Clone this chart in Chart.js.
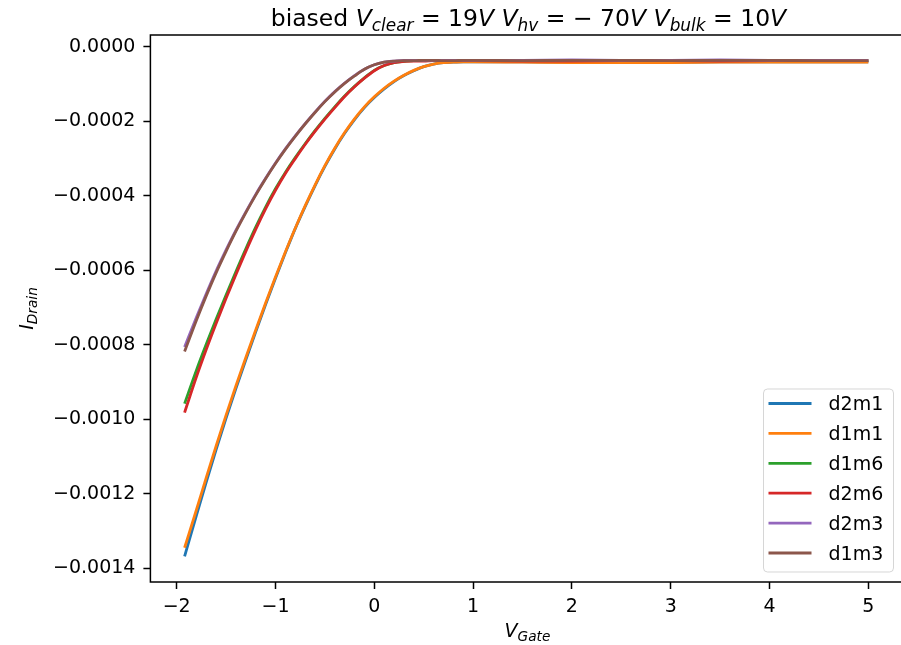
<!DOCTYPE html>
<html>
<head>
<meta charset="utf-8">
<script src="https://cdn.jsdelivr.net/npm/chart.js@4.4.1/dist/chart.umd.min.js"></script>
<style>
  html, body { margin: 0; padding: 0; background: #fff; overflow: hidden; }
  #wrap { width: 901px; height: 645px; overflow: hidden; }
</style>
</head>
<body>
<div id="wrap"><canvas id="myChart" width="910" height="645"></canvas></div>
<script>
// gate voltage sweep (V)
const vGate = [-1.92, -1.8, -1.7, -1.6, -1.5, -1.4, -1.3, -1.2, -1.1, -1.0,
    -0.9, -0.8, -0.7, -0.6, -0.5, -0.4, -0.3, -0.2, -0.1, 0.0,
    0.1, 0.2, 0.3, 0.4, 0.5, 0.6, 0.7, 0.8, 0.9, 1.0,
    1.5, 2.0, 2.5, 3.0, 3.5, 4.0, 4.5, 5.0]

// drain current (A)
const d2m1 = [-0.001368, -0.001258, -0.001168, -0.001081, -0.000997, -0.000917, -0.000840, -0.000765, -0.000692, -0.000621,
    -0.000553, -0.000488, -0.000429, -0.000373, -0.000321, -0.000274, -0.000232, -0.000195, -0.000163, -0.000136,
    -0.000113, -0.000093, -0.000077, -0.000064, -0.000053, -0.000046, -0.000042, -0.000041, -0.000040, -0.000040,
    -0.000040, -0.000041, -0.000041, -0.000041, -0.000040, -0.000040, -0.000040, -0.000040]
const d1m1 = [-0.001345, -0.001243, -0.001156, -0.001071, -0.000989, -0.000910, -0.000834, -0.000760, -0.000688, -0.000618,
    -0.000551, -0.000487, -0.000427, -0.000371, -0.000319, -0.000272, -0.000230, -0.000193, -0.000161, -0.000134,
    -0.000111, -0.000092, -0.000076, -0.000063, -0.000053, -0.000046, -0.000042, -0.000041, -0.000040, -0.000040,
    -0.000041, -0.000042, -0.000042, -0.000042, -0.000041, -0.000041, -0.000041, -0.000041]
const d1m6 = [-0.000958, -0.000868, -0.000798, -0.000731, -0.000666, -0.000603, -0.000542, -0.000484, -0.000430, -0.000381,
    -0.000337, -0.000297, -0.000260, -0.000225, -0.000192, -0.000161, -0.000132, -0.000106, -0.000083, -0.000063,
    -0.000050, -0.000042, -0.000039, -0.000037, -0.000037, -0.000037, -0.000037, -0.000037, -0.000037, -0.000037,
    -0.000037, -0.000037, -0.000036, -0.000037, -0.000037, -0.000036, -0.000037, -0.000037]
const d2m6 = [-0.000982, -0.000886, -0.000812, -0.000742, -0.000675, -0.000611, -0.000549, -0.000490, -0.000435, -0.000385,
    -0.000340, -0.000300, -0.000262, -0.000227, -0.000194, -0.000163, -0.000133, -0.000107, -0.000084, -0.000064,
    -0.000050, -0.000042, -0.000039, -0.000038, -0.000038, -0.000037, -0.000037, -0.000037, -0.000037, -0.000037,
    -0.000038, -0.000038, -0.000037, -0.000037, -0.000038, -0.000037, -0.000037, -0.000037]
const d2m3 = [-0.000806, -0.000726, -0.000662, -0.000601, -0.000545, -0.000492, -0.000443, -0.000396, -0.000353, -0.000312,
    -0.000274, -0.000239, -0.000206, -0.000175, -0.000146, -0.000120, -0.000097, -0.000077, -0.000060, -0.000048,
    -0.000041, -0.000038, -0.000036, -0.000036, -0.000036, -0.000036, -0.000036, -0.000036, -0.000036, -0.000036,
    -0.000036, -0.000035, -0.000036, -0.000036, -0.000035, -0.000036, -0.000036, -0.000036]
const d1m3 = [-0.000818, -0.000734, -0.000668, -0.000606, -0.000549, -0.000495, -0.000445, -0.000398, -0.000354, -0.000313,
    -0.000275, -0.000240, -0.000207, -0.000176, -0.000147, -0.000121, -0.000098, -0.000078, -0.000060, -0.000048,
    -0.000041, -0.000038, -0.000037, -0.000037, -0.000036, -0.000036, -0.000037, -0.000037, -0.000036, -0.000036,
    -0.000037, -0.000036, -0.000036, -0.000037, -0.000036, -0.000036, -0.000037, -0.000037]

const xTicks = [-2, -1, 0, 1, 2, 3, 4, 5]
const yTicks = [0, -0.0002, -0.0004, -0.0006, -0.0008, -0.0010, -0.0012, -0.0014]

const seriesNames = ['d2m1', 'd1m1', 'd1m6', 'd2m6', 'd2m3', 'd1m3']
const seriesColors = ['#1f77b4', '#ff7f0e', '#2ca02c', '#d62728', '#9467bd', '#8c564b']
const series = [d2m1, d1m1, d1m6, d2m6, d2m3, d1m3]

// mathtext-ish labels: [text, 'rm' | 'it' | 'sub']
const titleRuns = [['biased ', 'rm'], ['V', 'it'], ['clear', 'sub'], [' = 19', 'rm'], ['V', 'it'], [' ', 'rm'],
    ['V', 'it'], ['hv', 'sub'], [' = \u2212 ', 'rm'], ['70', 'rm'], ['V', 'it'], [' ', 'rm'],
    ['V', 'it'], ['bulk', 'sub'], [' = 10', 'rm'], ['V', 'it']]
const xLabelRuns = [['V', 'it'], ['Gate', 'sub']]
const yLabelRuns = [['I', 'it'], ['Drain', 'sub']]

const FONT = "'DejaVu Sans', sans-serif"

function minus(s) {
    return String(s).replace('-', '\u2212')
}

function drawMath(ctx, runs, cx, baseY, size) {
    const fontOf = k => k === 'rm' ? size + 'px ' + FONT
        : k === 'it' ? 'italic ' + size + 'px ' + FONT
        : 'italic ' + (size * 0.72) + 'px ' + FONT
    let w = 0
    for (const [t, k] of runs) { ctx.font = fontOf(k); w += ctx.measureText(t).width }
    let x = cx - w / 2
    ctx.fillStyle = '#000'
    ctx.textAlign = 'left'
    ctx.textBaseline = 'alphabetic'
    for (const [t, k] of runs) {
        ctx.font = fontOf(k)
        ctx.fillText(t, x, k === 'sub' ? baseY + size * 0.22 : baseY)
        x += ctx.measureText(t).width
    }
}

const decor = {
    id: 'decor',
    afterDraw(chart) {
        const { ctx, chartArea: a } = chart
        ctx.save()
        // spines
        ctx.strokeStyle = '#000'
        ctx.lineWidth = 1.5
        ctx.strokeRect(a.left, a.top, a.right - a.left, a.bottom - a.top)

        const cx = (a.left + a.right) / 2
        drawMath(ctx, titleRuns, cx + 2, 25.5, 23.5)
        drawMath(ctx, xLabelRuns, cx + 1, 637, 19)
        ctx.save()
        ctx.translate(33, (a.top + a.bottom) / 2)
        ctx.rotate(-Math.PI / 2)
        drawMath(ctx, yLabelRuns, 0, 0, 19)
        ctx.restore()

        // legend, lower right
        const bw = 130, bh = 183
        const bx = a.right - 9 - bw, by = a.bottom - 10 - bh
        ctx.beginPath()
        ctx.roundRect(bx, by, bw, bh, 4)
        ctx.fillStyle = 'rgba(255,255,255,0.8)'
        ctx.fill()
        ctx.strokeStyle = 'rgba(204,204,204,0.8)'
        ctx.lineWidth = 1
        ctx.stroke()
        ctx.font = '19px ' + FONT
        ctx.textAlign = 'left'
        ctx.textBaseline = 'alphabetic'
        seriesNames.forEach((name, i) => {
            const ry = by + 14.5 + i * 29.9
            ctx.beginPath()
            ctx.moveTo(bx + 5, ry)
            ctx.lineTo(bx + 48, ry)
            ctx.strokeStyle = seriesColors[i]
            ctx.lineWidth = 2.8
            ctx.stroke()
            ctx.fillStyle = '#000'
            ctx.fillText(name, bx + 65, ry + 6.8)
        })
        ctx.restore()
    }
}

const tickFont = { family: FONT, size: 19 }
const tickGrid = { display: true, drawOnChartArea: false, drawTicks: true, tickLength: 7, tickWidth: 1.5, color: '#000' }

const ctx = document.getElementById('myChart').getContext('2d')

const myChart = new Chart(ctx, {
    type: 'line',
    data: {
        datasets: series.map((vals, k) => ({
            label: seriesNames[k],
            data: vGate.map((x, i) => ({ x: x, y: vals[i] })),
            borderColor: seriesColors[k],
            borderWidth: 2.8,
            pointRadius: 0,
            cubicInterpolationMode: 'monotone',
            fill: false,
            order: series.length - 1 - k
        }))
    },
    options: {
        responsive: false,
        animation: false,
        devicePixelRatio: 1,
        layout: { padding: { top: 35, right: 7.5, left: 0, bottom: 0 } },
        scales: {
            x: {
                type: 'linear',
                min: -2.266,
                max: 5.346,
                afterBuildTicks: scale => { scale.ticks = xTicks.map(v => ({ value: v })) },
                afterFit: scale => { scale.height = 63 },
                ticks: { callback: v => minus(v), font: tickFont, color: '#000', padding: 7, maxRotation: 0, autoSkip: false },
                grid: tickGrid,
                border: { display: false }
            },
            y: {
                type: 'linear',
                min: -0.001437,
                max: 0.000032,
                afterBuildTicks: scale => { scale.ticks = yTicks.map(v => ({ value: v })) },
                afterFit: scale => { scale.width = 150.4 },
                ticks: { callback: v => minus(v.toFixed(4)), font: tickFont, color: '#000', padding: 8, autoSkip: false },
                grid: tickGrid,
                border: { display: false }
            }
        },
        plugins: {
            legend: { display: false },
            title: { display: false },
            tooltip: { enabled: false }
        }
    },
    plugins: [decor]
})
</script>
</body>
</html>
